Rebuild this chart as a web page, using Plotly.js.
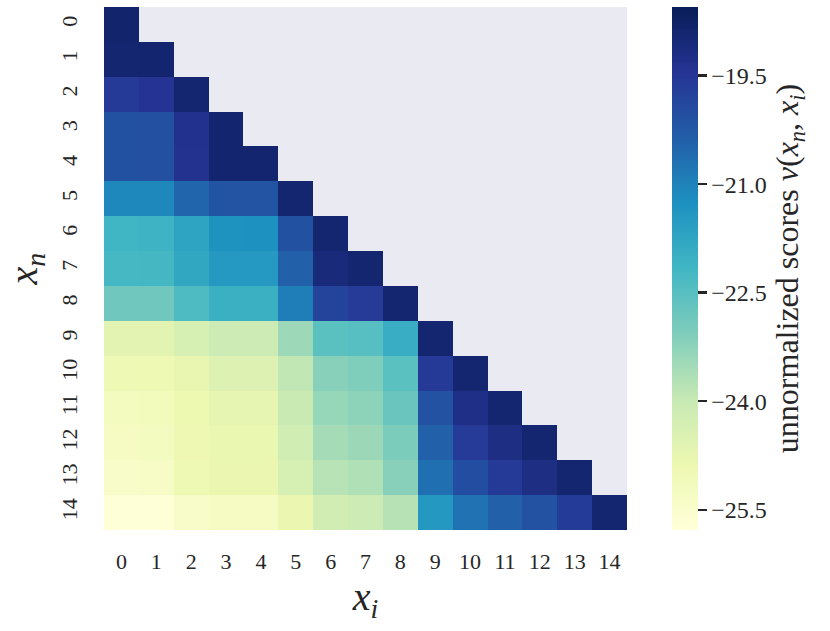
<!DOCTYPE html>
<html>
<head>
<meta charset="utf-8">
<script src="https://cdn.plot.ly/plotly-3.0.1.min.js"></script>
<style>
  html, body { margin: 0; padding: 0; background: #fff; }
  #chart { width: 830px; height: 631px; }
</style>
</head>
<body>
<div id="chart"></div>
<script>
// positions x_i (columns) and x_n (rows)
const xi = [0, 1, 2, 3, 4, 5, 6, 7, 8, 9, 10, 11, 12, 13, 14];
const xn = [0, 1, 2, 3, 4, 5, 6, 7, 8, 9, 10, 11, 12, 13, 14];

// unnormalized scores, lower triangle only (row n has n+1 values)
const r0  = [-18.85];
const r1  = [-18.9, -18.88];
const r2  = [-19.56, -19.45, -18.9];
const r3  = [-20.07, -20.05, -19.35, -18.88];
const r4  = [-20.08, -20.06, -19.36, -18.88, -18.88];
const r5  = [-21.1, -21.08, -20.5, -20.14, -20.14, -18.9];
const r6  = [-22.13, -22.1, -21.7, -21.3, -21.26, -20.07, -18.9];
const r7  = [-22.24, -22.22, -21.8, -21.45, -21.45, -20.4, -19.05, -18.9];
const r8  = [-22.84, -22.83, -22.35, -22.02, -22.02, -20.93, -19.78, -19.6, -18.9];
const r9  = [-24.64, -24.64, -24.33, -24.12, -24.12, -23.45, -22.55, -22.49, -21.95, -18.9];
const r10 = [-24.98, -24.95, -24.77, -24.48, -24.48, -23.9, -23.18, -23.07, -22.55, -19.56, -18.9];
const r11 = [-25.2, -25.13, -24.88, -24.7, -24.7, -24.05, -23.36, -23.25, -22.75, -20.1, -19.27, -18.9];
const r12 = [-25.27, -25.24, -24.91, -24.8, -24.8, -24.19, -23.54, -23.43, -23.03, -20.4, -19.6, -19.2, -18.9];
const r13 = [-25.42, -25.38, -24.95, -24.84, -24.84, -24.33, -23.77, -23.68, -23.18, -20.65, -20.0, -19.56, -19.2, -18.9];
const r14 = [-25.74, -25.72, -25.42, -25.31, -25.31, -24.84, -24.22, -24.12, -23.76, -21.44, -20.72, -20.4, -20.1, -19.63, -18.9];

const rows = [r0, r1, r2, r3, r4, r5, r6, r7, r8, r9, r10, r11, r12, r13, r14];
// pad the upper triangle with nulls so it shows the background
const z = rows.map(r => xi.map((c, j) => (j < r.length ? r[j] : null)));

const cbTicks = [-19.5, -21.0, -22.5, -24.0, -25.5];

const ylgnbu = [
  [0.0, '#ffffd9'], [0.125, '#edf8b1'], [0.25, '#c7e9b4'],
  [0.375, '#7fcdbb'], [0.5, '#41b6c4'], [0.625, '#1d91c0'],
  [0.75, '#225ea8'], [0.875, '#253494'], [1.0, '#081d58']
];

const serif = '"Liberation Serif", "DejaVu Serif", serif';

const trace = {
  type: 'heatmap',
  x: xi,
  y: xn,
  z: z,
  zmin: -25.78,
  zmax: -18.55,
  colorscale: ylgnbu,
  hoverongaps: false,
  colorbar: {
    x: 1.086,
    xanchor: 'left',
    xpad: 0,
    y: 0.5,
    yanchor: 'middle',
    len: 1,
    lenmode: 'fraction',
    ypad: 0,
    thickness: 26,
    outlinewidth: 0,
    tickvals: cbTicks,
    ticktext: cbTicks.map(v => '\u2212' + Math.abs(v).toFixed(1)),
    ticks: 'outside',
    ticklen: 9,
    tickwidth: 2.5,
    tickcolor: '#262626',
    tickfont: { family: serif, size: 24, color: '#262626' },
    title: {
      text: 'unnormalized scores <i>v</i>(<i>x</i><sub><i>n</i></sub>, <i>x</i><sub><i>i</i></sub>)',
      side: 'right',
      font: { family: serif, size: 32, color: '#262626' }
    }
  }
};

const layout = {
  width: 830,
  height: 631,
  margin: { l: 104, r: 203, t: 7, b: 101 },
  paper_bgcolor: '#ffffff',
  plot_bgcolor: '#eaeaf2',
  xaxis: {
    tickvals: xi,
    ticktext: xi.map(String),
    ticks: '',
    showgrid: false,
    zeroline: false,
    showline: false,
    ticklabelstandoff: 16,
    tickangle: 0,
    tickfont: { family: serif, size: 22, color: '#262626' },
    title: {
      text: '<i>x</i><sub><i>i</i></sub>',
      font: { family: serif, size: 40, color: '#262626' },
      standoff: 4
    }
  },
  yaxis: {
    autorange: 'reversed',
    tickvals: xn,
    ticktext: xn.map(String),
    ticks: '',
    showgrid: false,
    zeroline: false,
    showline: false,
    tickangle: -90,
    ticklabelstandoff: 22,
    tickfont: { family: serif, size: 22, color: '#262626' },
    title: {
      text: '<i>x</i><sub><i>n</i></sub>',
      font: { family: serif, size: 40, color: '#262626' },
      standoff: 6
    }
  }
};

Plotly.newPlot('chart', [trace], layout, { displayModeBar: false, staticPlot: true });
</script>
</body>
</html>
